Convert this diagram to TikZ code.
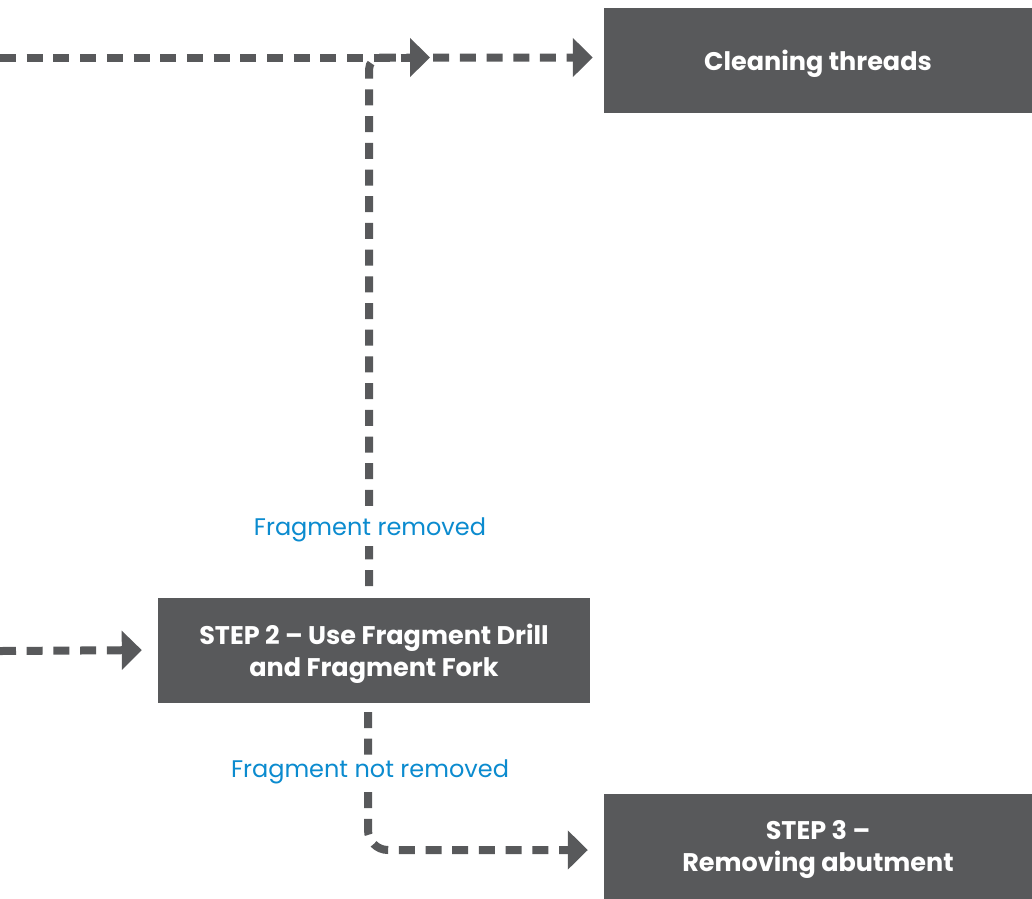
\documentclass[tikz,border=0pt]{standalone}
\usepackage{fontspec}
\setmainfont{Poppins}
\usetikzlibrary{arrows.meta}
\definecolor{boxgray}{HTML}{58595B}
\definecolor{fragblue}{HTML}{0B8BCF}
\tikzset{
  stepbox/.style={fill=boxgray,text=white,font=\fontsize{25.5}{32}\selectfont\bfseries,
    align=center,text depth=0pt,minimum width=428pt,minimum height=105pt,inner sep=0pt},
  flow/.style={draw=boxgray,line width=8pt,dash pattern=on 16pt off 10.7pt,
    -{Triangle[length=20pt,width=38pt]}},
  fraglabel/.style={fill=white,text=fragblue,font=\fontsize{24}{28}\selectfont,inner sep=4pt}
}
\begin{document}
\begin{tikzpicture}[x=1pt,y=-1pt]
  \useasboundingbox (0,0) rectangle (1032,898);
  % boxes
  \node[stepbox] (clean) at (818,60) {Cleaning threads};
  \node[stepbox,minimum width=432pt] (step2) at (374,650) {STEP 2 -- Use Fragment Drill\\and Fragment Fork};
  \node[stepbox] (step3) at (818,846) {STEP 3 --\\Removing abutment};
  % loose ends
  \coordinate (inA) at (0,57.5);
  \coordinate (tipA) at (430,57.5);
  \coordinate (inB) at (0,651);
  \coordinate (upB) at (369,586);
  \coordinate (downB) at (368,712);
  % connectors
  \draw[flow] (inA) -- (tipA);
  \draw[flow,rounded corners=12pt,shorten >=11pt] (upB) |- ([yshift=2.5pt]clean.west);
  \draw[flow,shorten >=16pt] (inB) -- (step2.west);
  \draw[flow,rounded corners=20pt,shorten >=16pt] (downB) |- ([yshift=-4pt]step3.west);
  % labels
  \node[fraglabel] (removed) at (370,530) {Fragment removed};
  \node[fraglabel] (notremoved) at (370,772) {Fragment not removed};
\end{tikzpicture}
\end{document}
